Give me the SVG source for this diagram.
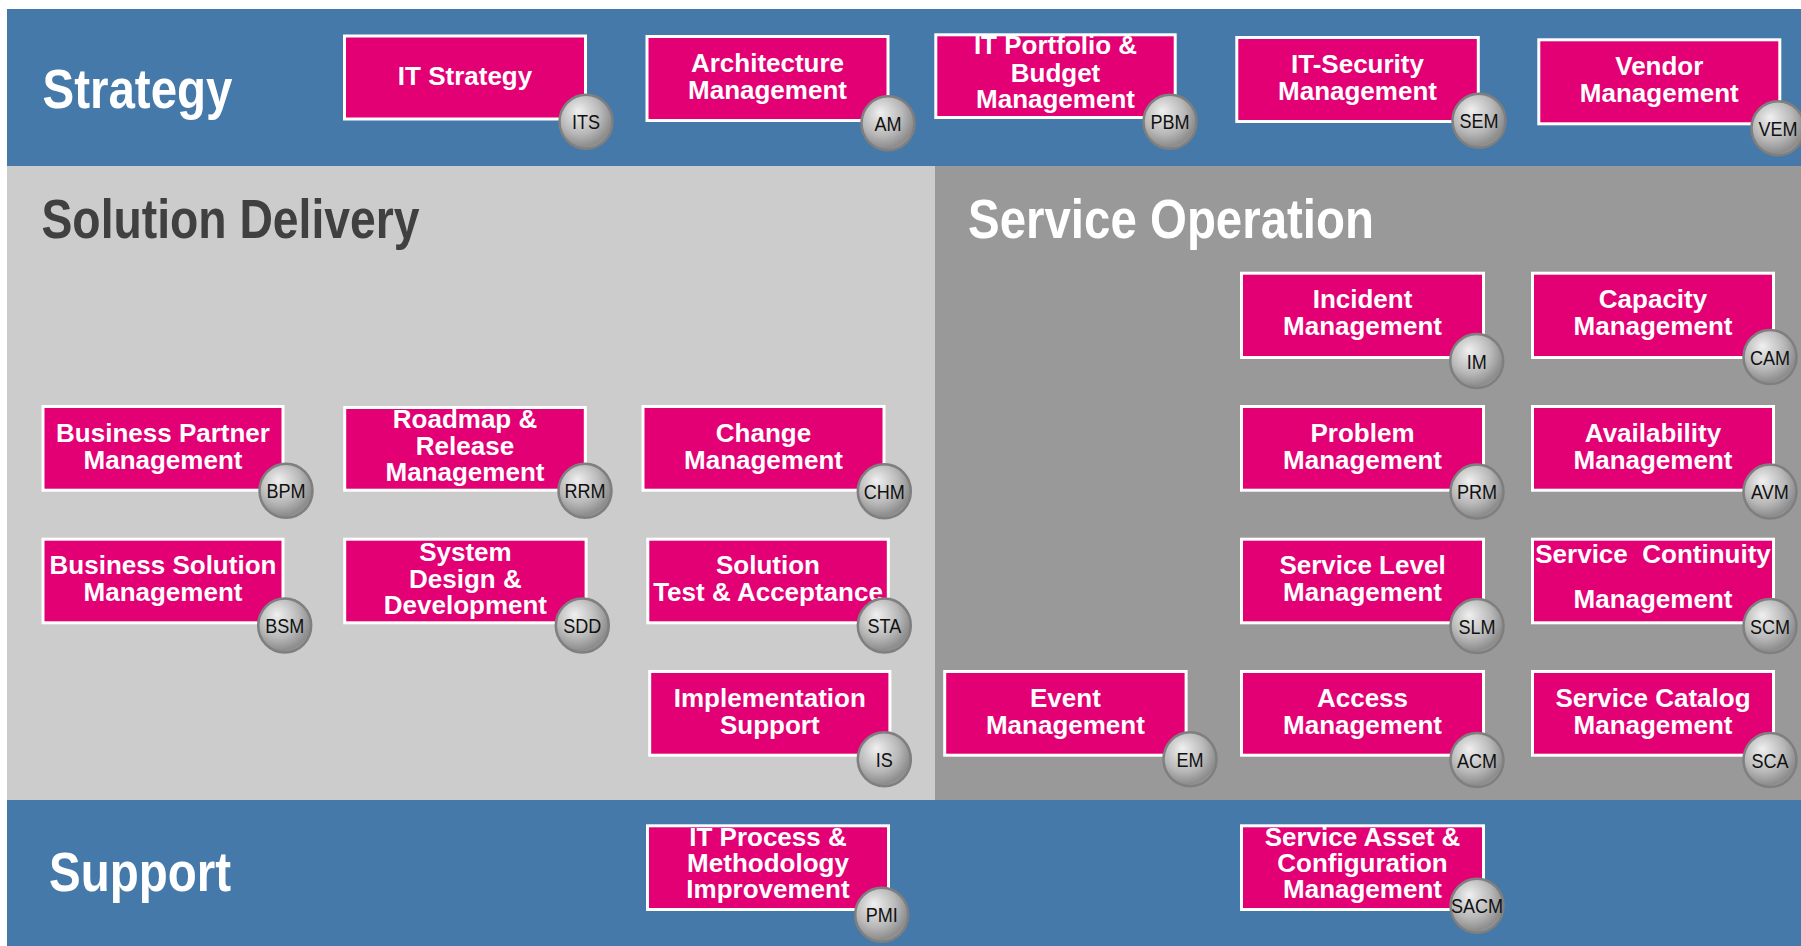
<svg xmlns="http://www.w3.org/2000/svg" width="1801" height="946" viewBox="0 0 1801 946">
<defs>
<radialGradient id="ball" cx="0.42" cy="0.38" r="0.7" fx="0.35" fy="0.3">
<stop offset="0" stop-color="#f0f0f0"/>
<stop offset="0.55" stop-color="#b8b8b8"/>
<stop offset="0.85" stop-color="#8c8c8c"/>
<stop offset="1" stop-color="#a8a8a8"/>
</radialGradient>
<style>
.box{fill:#e20074;stroke:#ffffff;stroke-width:3}
.ball{fill:url(#ball);stroke:#7f7f7f;stroke-width:2.5}
.t{fill:#ffffff;font-family:"Liberation Sans",Arial,sans-serif;font-weight:bold;font-size:26px;text-anchor:middle}
.c{fill:#111111;font-family:"Liberation Sans",Arial,sans-serif;font-size:21px;text-anchor:middle}
.h{font-family:"Liberation Sans",Arial,sans-serif;font-weight:bold;font-size:55px}
</style>
</defs>
<rect x="0" y="0" width="1801" height="946" fill="#ffffff"/>
<rect x="7" y="9" width="1794" height="157" fill="#4579aa"/>
<rect x="7" y="166" width="928" height="634" fill="#cccccc"/>
<rect x="935" y="166" width="866" height="634" fill="#999999"/>
<rect x="7" y="800" width="1794" height="146" fill="#4579aa"/>
<g id="titles">
<text class="h" x="42.5" y="107.5" fill="#ffffff" textLength="190" lengthAdjust="spacingAndGlyphs">Strategy</text>
<text class="h" x="41.5" y="237.5" fill="#404040" textLength="378" lengthAdjust="spacingAndGlyphs">Solution Delivery</text>
<text class="h" x="968" y="237.5" fill="#ffffff" textLength="406" lengthAdjust="spacingAndGlyphs">Service Operation</text>
<text class="h" x="49" y="891" fill="#ffffff" textLength="182" lengthAdjust="spacingAndGlyphs">Support</text>
</g>
<g id="connectors"/>
<g id="its"><rect class="box" x="344.5" y="36" width="241" height="83"/><text class="t" x="465" y="85">IT Strategy</text><ellipse class="ball" cx="586" cy="121.7" rx="26.5" ry="27"/><text class="c" transform="translate(586 129.2) scale(0.86 1)">ITS</text></g>
<g id="am"><rect class="box" x="647" y="36.5" width="241" height="84"/><text class="t" x="767.5" y="71.5">Architecture</text><text class="t" x="767.5" y="98.5">Management</text><ellipse class="ball" cx="888" cy="123.3" rx="26.5" ry="27"/><text class="c" transform="translate(888 130.8) scale(0.86 1)">AM</text></g>
<g id="pbm"><rect class="box" x="935.8" y="34.8" width="239.4" height="82.7"/><text class="t" x="1055.5" y="54.3">IT Portfolio &amp;</text><text class="t" x="1055.5" y="81.7">Budget</text><text class="t" x="1055.5" y="107.7">Management</text><ellipse class="ball" cx="1170" cy="121.7" rx="26.5" ry="27"/><text class="c" transform="translate(1170 129.2) scale(0.86 1)">PBM</text></g>
<g id="sem"><rect class="box" x="1236.8" y="37.5" width="241.5" height="84"/><text class="t" x="1357.5" y="72.5">IT-Security</text><text class="t" x="1357.5" y="99.5">Management</text><ellipse class="ball" cx="1479" cy="120.8" rx="26.5" ry="27"/><text class="c" transform="translate(1479 128.3) scale(0.86 1)">SEM</text></g>
<g id="vem"><rect class="box" x="1538.8" y="39.8" width="241" height="84"/><text class="t" x="1659.3" y="74.8">Vendor</text><text class="t" x="1659.3" y="101.8">Management</text><ellipse class="ball" cx="1778" cy="128.3" rx="26.5" ry="27"/><text class="c" transform="translate(1778 135.8) scale(0.86 1)">VEM</text></g>
<g id="bpm"><rect class="box" x="43" y="406.5" width="240" height="83.7"/><text class="t" x="163" y="441.5">Business Partner</text><text class="t" x="163" y="468.5">Management</text><ellipse class="ball" cx="286" cy="490.8" rx="26.5" ry="27"/><text class="c" transform="translate(286 498.3) scale(0.86 1)">BPM</text></g>
<g id="rrm"><rect class="box" x="344.7" y="407.5" width="240.6" height="82.7"/><text class="t" x="465" y="428">Roadmap &amp;</text><text class="t" x="465" y="454.5">Release</text><text class="t" x="465" y="481">Management</text><ellipse class="ball" cx="585" cy="490.8" rx="26.5" ry="27"/><text class="c" transform="translate(585 498.3) scale(0.86 1)">RRM</text></g>
<g id="chm"><rect class="box" x="643" y="406.5" width="241" height="83.7"/><text class="t" x="763.5" y="441.5">Change</text><text class="t" x="763.5" y="468.5">Management</text><ellipse class="ball" cx="884.3" cy="491.2" rx="26.5" ry="27"/><text class="c" transform="translate(884.3 498.7) scale(0.86 1)">CHM</text></g>
<g id="bsm"><rect class="box" x="43" y="539.2" width="240" height="83.6"/><text class="t" x="163" y="574.2">Business Solution</text><text class="t" x="163" y="601.2">Management</text><ellipse class="ball" cx="284.7" cy="625.5" rx="26.5" ry="27"/><text class="c" transform="translate(284.7 633) scale(0.86 1)">BSM</text></g>
<g id="sdd"><rect class="box" x="344.7" y="539.2" width="241.4" height="83.6"/><text class="t" x="465.4" y="561">System</text><text class="t" x="465.4" y="587.5">Design &amp;</text><text class="t" x="465.4" y="614">Development</text><ellipse class="ball" cx="582.3" cy="625.5" rx="26.5" ry="27"/><text class="c" transform="translate(582.3 633) scale(0.86 1)">SDD</text></g>
<g id="sta"><rect class="box" x="647.8" y="539.2" width="240.5" height="83.6"/><text class="t" x="768" y="574.2">Solution</text><text class="t" x="768" y="600.5">Test &amp; Acceptance</text><ellipse class="ball" cx="884.3" cy="625.5" rx="26.5" ry="27"/><text class="c" transform="translate(884.3 633) scale(0.86 1)">STA</text></g>
<g id="is"><rect class="box" x="649.7" y="671.5" width="240.2" height="83.7"/><text class="t" x="769.8" y="706.5">Implementation</text><text class="t" x="769.8" y="733.5">Support</text><ellipse class="ball" cx="884.3" cy="759.2" rx="26.5" ry="27"/><text class="c" transform="translate(884.3 766.7) scale(0.86 1)">IS</text></g>
<g id="em"><rect class="box" x="944.7" y="671.5" width="241.4" height="83.7"/><text class="t" x="1065.4" y="706.5">Event</text><text class="t" x="1065.4" y="733.5">Management</text><ellipse class="ball" cx="1190" cy="759.2" rx="26.5" ry="27"/><text class="c" transform="translate(1190 766.7) scale(0.86 1)">EM</text></g>
<g id="im"><rect class="box" x="1241.5" y="273.2" width="242" height="84.3"/><text class="t" x="1362.5" y="308.3">Incident</text><text class="t" x="1362.5" y="335">Management</text><ellipse class="ball" cx="1476.7" cy="361" rx="26.5" ry="27"/><text class="c" transform="translate(1476.7 368.5) scale(0.86 1)">IM</text></g>
<g id="cam"><rect class="box" x="1532.5" y="273.2" width="241" height="84.3"/><text class="t" x="1653" y="308.3">Capacity</text><text class="t" x="1653" y="335">Management</text><ellipse class="ball" cx="1770" cy="357" rx="26.5" ry="27"/><text class="c" transform="translate(1770 364.5) scale(0.86 1)">CAM</text></g>
<g id="prm"><rect class="box" x="1241.5" y="406.5" width="242" height="83.7"/><text class="t" x="1362.5" y="441.5">Problem</text><text class="t" x="1362.5" y="468.5">Management</text><ellipse class="ball" cx="1477" cy="491.6" rx="26.5" ry="27"/><text class="c" transform="translate(1477 499.1) scale(0.86 1)">PRM</text></g>
<g id="avm"><rect class="box" x="1532.5" y="406.5" width="241" height="83.7"/><text class="t" x="1653" y="441.5">Availability</text><text class="t" x="1653" y="468.5">Management</text><ellipse class="ball" cx="1770" cy="491.6" rx="26.5" ry="27"/><text class="c" transform="translate(1770 499.1) scale(0.86 1)">AVM</text></g>
<g id="slm"><rect class="box" x="1241.5" y="539.2" width="242" height="83.6"/><text class="t" x="1362.5" y="574.2">Service Level</text><text class="t" x="1362.5" y="601.2">Management</text><ellipse class="ball" cx="1477" cy="626" rx="26.5" ry="27"/><text class="c" transform="translate(1477 633.5) scale(0.86 1)">SLM</text></g>
<g id="scm"><rect class="box" x="1532.5" y="539.2" width="241" height="83.6"/><text class="t" x="1653" y="563" xml:space="preserve">Service  Continuity</text><text class="t" x="1653" y="608">Management</text><ellipse class="ball" cx="1770" cy="626" rx="26.5" ry="27"/><text class="c" transform="translate(1770 633.5) scale(0.86 1)">SCM</text></g>
<g id="acm"><rect class="box" x="1241.5" y="671.5" width="242" height="83.7"/><text class="t" x="1362.5" y="706.5">Access</text><text class="t" x="1362.5" y="733.5">Management</text><ellipse class="ball" cx="1477" cy="760" rx="26.5" ry="27"/><text class="c" transform="translate(1477 767.5) scale(0.86 1)">ACM</text></g>
<g id="sca"><rect class="box" x="1532.5" y="671.5" width="241" height="83.7"/><text class="t" x="1653" y="706.5">Service Catalog</text><text class="t" x="1653" y="733.5">Management</text><ellipse class="ball" cx="1770" cy="760" rx="26.5" ry="27"/><text class="c" transform="translate(1770 767.5) scale(0.86 1)">SCA</text></g>
<g id="pmi"><rect class="box" x="647.5" y="825.8" width="241" height="83.7"/><text class="t" x="768" y="846">IT Process &amp;</text><text class="t" x="768" y="872">Methodology</text><text class="t" x="768" y="898">Improvement</text><ellipse class="ball" cx="881.7" cy="914.7" rx="26.5" ry="27"/><text class="c" transform="translate(881.7 922.2) scale(0.86 1)">PMI</text></g>
<g id="sacm"><rect class="box" x="1241.5" y="825.8" width="242" height="83.7"/><text class="t" x="1362.5" y="846">Service Asset &amp;</text><text class="t" x="1362.5" y="872">Configuration</text><text class="t" x="1362.5" y="898">Management</text><ellipse class="ball" cx="1477" cy="905.7" rx="26.5" ry="27"/><text class="c" transform="translate(1477 913.2) scale(0.86 1)">SACM</text></g>
</svg>
